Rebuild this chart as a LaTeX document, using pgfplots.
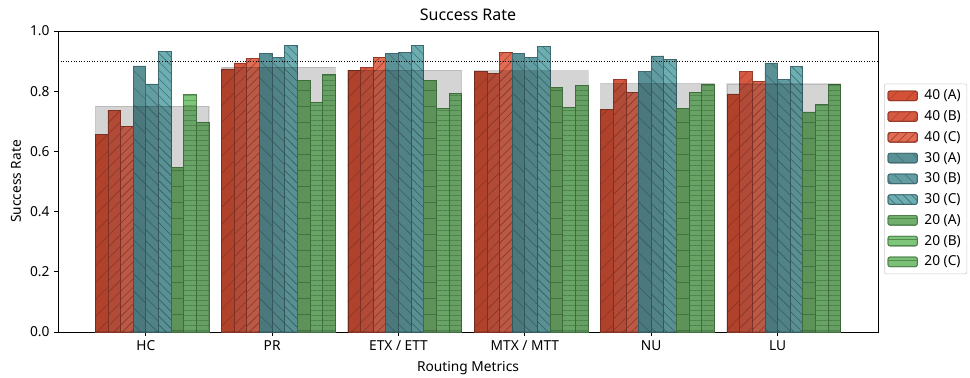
\documentclass[border=0pt]{standalone}
\usepackage{pgfplots}
\pgfplotsset{compat=1.18}
\usepackage{pgfplotstable}
\usetikzlibrary{patterns.meta}
\usepackage{fontspec}
\setmainfont{Noto Sans}

\definecolor{c40a}{RGB}{212,80,54}
\definecolor{c40b}{RGB}{214,90,66}
\definecolor{c40c}{RGB}{224,108,84}
\definecolor{c30a}{RGB}{90,145,150}
\definecolor{c30b}{RGB}{97,157,162}
\definecolor{c30c}{RGB}{108,174,178}
\definecolor{c20a}{RGB}{112,176,108}
\definecolor{c20b}{RGB}{126,198,122}
\definecolor{c20c}{RGB}{122,192,118}
\definecolor{e40}{RGB}{150,58,40}
\definecolor{e30}{RGB}{62,106,111}
\definecolor{e20}{RGB}{76,130,74}
\definecolor{h40}{RGB}{168,64,46}
\definecolor{h30}{RGB}{66,112,117}
\definecolor{h20}{RGB}{82,138,80}

\pgfplotstableread{
x a40 b40 c40 a30 b30 c30 a20 b20 c20 avg
0 0.657 0.735 0.684 0.884 0.824 0.931 0.546 0.790 0.697 0.750
1 0.874 0.894 0.909 0.926 0.913 0.952 0.836 0.763 0.857 0.880
2 0.870 0.879 0.913 0.926 0.928 0.952 0.836 0.744 0.793 0.870
3 0.867 0.858 0.930 0.926 0.913 0.948 0.811 0.745 0.818 0.868
4 0.739 0.839 0.795 0.866 0.917 0.906 0.743 0.797 0.821 0.826
5 0.791 0.866 0.831 0.894 0.839 0.881 0.731 0.757 0.821 0.824
}\data

\newcommand{\fs}{\fontsize{10.3}{12.4}\selectfont}

\pgfplotsset{
  mybar/.style={ybar, bar width=0.1, bar shift=0pt, line width=0.6pt,
    legend image code/.code={\draw[##1] (0pt,-3.6pt) rectangle (22pt,3.6pt);}},
}

\begin{document}
\begin{tikzpicture}
\begin{axis}[
  scale only axis,
  width=615pt, height=225.75pt,
  xmin=-0.695, xmax=5.795, ymin=0, ymax=1,
  xtick={0,1,2,3,4,5},
  xticklabels={HC,PR,ETX / ETT,MTX / MTT,NU,LU},
  ytick={0,0.2,0.4,0.6,0.8,1.0},
  yticklabel style={/pgf/number format/.cd, fixed, fixed zerofill, precision=1, assume math mode=true},
  xtick pos=bottom, ytick pos=left,
  tick align=outside,
  major tick length=2.83pt,
  axis line style={line width=0.65pt},
  every tick/.style={black, line width=0.65pt},
  tick label style={font=\fs},
  label style={font=\fs},
  xlabel style={yshift=-1.5pt},
  title style={font=\fontsize{12}{14.4}\selectfont, yshift=-1.8pt},
  title={Success Rate},
  xlabel={Routing Metrics},
  ylabel={Success Rate},
  legend style={at={(1,0.5)}, anchor=west, xshift=4.5pt, yshift=2pt, draw=black!20, rounded corners=1.5pt, font=\fs, row sep=2.6pt, inner sep=2.5pt,
    /tikz/every odd column/.append style={column sep=3pt}},
  legend cell align=left,
  clip=false,
]
\coordinate (bl) at (rel axis cs:0,0);
\addplot[mybar, fill=c40a, draw=e40, postaction={pattern={Lines[angle=45,distance=9pt,line width=0.45pt]}, pattern color=h40}] table[x expr=\thisrow{x}-0.35, y=a40]{\data};
\addlegendentry{40 (A)}
\addplot[mybar, fill=c40b, draw=e40, postaction={pattern={Lines[angle=45,distance=6pt,line width=0.45pt]}, pattern color=h40}] table[x expr=\thisrow{x}-0.25, y=b40]{\data};
\addlegendentry{40 (B)}
\addplot[mybar, fill=c40c, draw=e40, postaction={pattern={Lines[angle=45,distance=4.5pt,line width=0.45pt]}, pattern color=h40}] table[x expr=\thisrow{x}-0.15, y=c40]{\data};
\addlegendentry{40 (C)}
\addplot[mybar, fill=c30a, draw=e30, postaction={pattern={Lines[angle=-45,distance=9pt,line width=0.45pt]}, pattern color=h30}] table[x expr=\thisrow{x}-0.05, y=a30]{\data};
\addlegendentry{30 (A)}
\addplot[mybar, fill=c30b, draw=e30, postaction={pattern={Lines[angle=-45,distance=6pt,line width=0.45pt]}, pattern color=h30}] table[x expr=\thisrow{x}+0.05, y=b30]{\data};
\addlegendentry{30 (B)}
\addplot[mybar, fill=c30c, draw=e30, postaction={pattern={Lines[angle=-45,distance=4.5pt,line width=0.45pt]}, pattern color=h30}] table[x expr=\thisrow{x}+0.15, y=c30]{\data};
\addlegendentry{30 (C)}
\addplot[mybar, fill=c20a, draw=e20, postaction={pattern={Lines[angle=0,distance=12pt,line width=0.6pt]}, pattern color=h20}] table[x expr=\thisrow{x}+0.25, y=a20]{\data};
\addlegendentry{20 (A)}
\addplot[mybar, fill=c20b, draw=e20, postaction={pattern={Lines[angle=0,distance=4pt,line width=0.55pt]}, pattern color=h20}] table[x expr=\thisrow{x}+0.35, y=b20]{\data};
\addlegendentry{20 (B)}
\addplot[mybar, fill=c20c, draw=e20, postaction={pattern={Lines[angle=0,distance=4pt,line width=0.55pt]}, pattern color=h20}] table[x expr=\thisrow{x}+0.45, y=c20]{\data};
\addlegendentry{20 (C)}
\addplot[ybar, bar width=0.9, bar shift=0pt, fill=black, fill opacity=0.17, draw=black, draw opacity=0.12, line width=0.8pt, forget plot] table[x expr=\thisrow{x}+0.05, y=avg]{\data};
\addplot[black, line width=0.75pt, dash pattern=on 0.75pt off 1.2pt, forget plot] coordinates {(-0.695,0.9) (5.795,0.9)};
\end{axis}
\pgfresetboundingbox
\useasboundingbox (bl) ++(-43.5pt,-34.5pt) rectangle ++(727.5pt,283.5pt);
\end{tikzpicture}
\end{document}
